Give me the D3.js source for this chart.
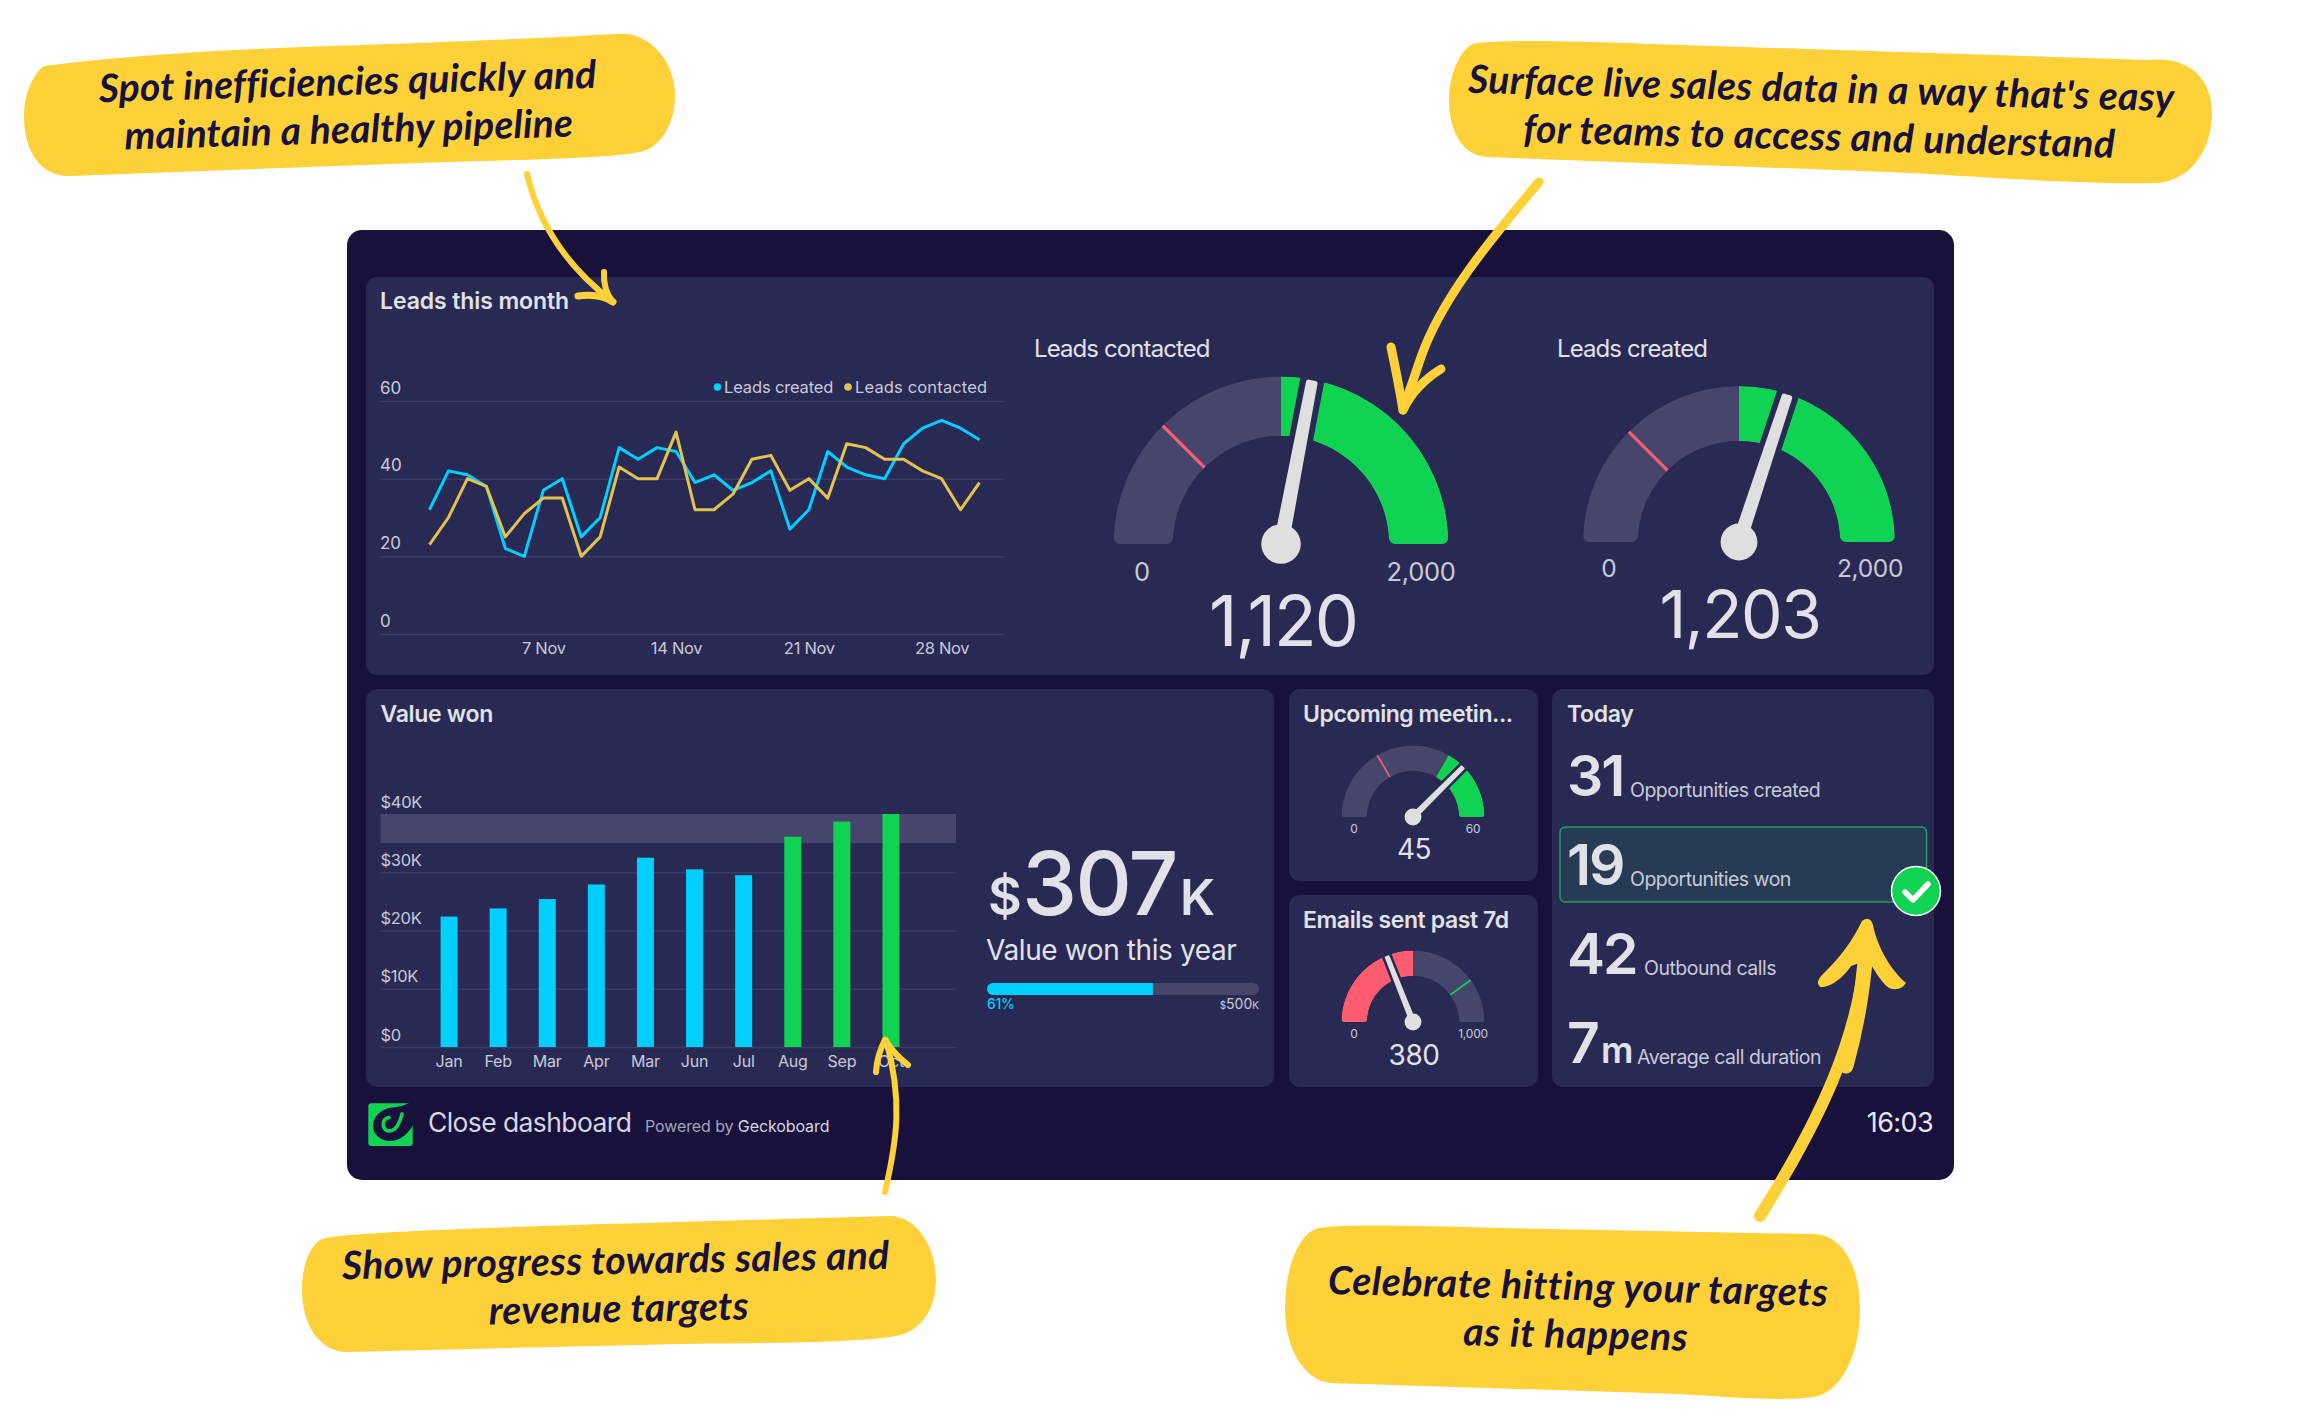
<!DOCTYPE html>
<html><head><meta charset="utf-8">
<script src="https://cdn.jsdelivr.net/npm/d3@7/dist/d3.min.js"></script>
<style>
html,body{margin:0;padding:0;background:#fff}
svg{display:block}
text{font-family:Inter,"Noto Sans",sans-serif}
.call text{font-family:Lato,"Noto Sans",sans-serif;font-style:italic;font-weight:700;fill:#17113c}
.axis path.domain{display:none}
</style></head><body>
<svg id="c" width="2300" height="1410" viewBox="0 0 2300 1410"></svg>
<script>
// ---------- data ----------
const days = d3.range(1, 31);
const dayTicks = [7, 14, 21, 28];
const leadsCreated = [32,42,41,38,22,20,37,40,25,30,48,45,48,47,39,41,37,39,42,27,32,47,43,41,40,49,53,55,53,50];
const leadsContacted = [23,30,40,38,25,31,35,35,20,25,43,40,40,52,32,32,36,45,46,37,40,35,49,48,45,45,42,40,32,39];
const leadTicks = [0, 20, 40, 60];
const months = ["Jan","Feb","Mar","Apr","Mar ","Jun","Jul","Aug","Sep","Oct"];
const valueWon = [22400,23800,25400,27900,32500,30500,29500,36100,38700,40000];
const valueTicks = [0, 10000, 20000, 30000, 40000];
const valueBand = [35000, 40000];
const valueTotalK = 307, valueTargetK = 500, valuePct = 61;
const todayNumbers = ["31","19","42","7"];
const todayLabels = ["Opportunities created","Opportunities won","Outbound calls","Average call duration"];
const callouts = [
  ["Spot inefficiencies quickly and","maintain a healthy pipeline"],
  ["Surface live sales data in a way that's easy","for teams to access and understand"],
  ["Show progress towards sales and","revenue targets"],
  ["Celebrate hitting your targets","as it happens"]
];
const gaugeTitles = ["Leads contacted","Leads created","","" ];
const gaugeValues = [1120,1203,45,380];
const gaugeMax = [2000,2000,60,1000];
const gaugeMaxLabels = ["2,000","2,000","60","1,000"];
const gaugeFill = [[1000,2000],[1000,2000],[40,60],[0,500]];
const gaugeMark = [500,500,20,800];

// ---------- palette ----------
const NAVY="#17113c",CARD="#282a54",GREY="#46466d",GREEN="#10d353",RED="#ff5c70",BLUE="#00cfff",GOLD="#e4c24f",
      INK="#e1e1e8",SOFT="#c9c9d6",LINE="#3b3c66",YELLOW="#ffd139";

const svg=d3.select("#c");
function T(p,x,y,s,size,o={}){
  return p.append("text").attr("x",x).attr("y",y).text(s)
   .attr("font-size",size).attr("font-weight",o.w||400).attr("fill",o.c||INK)
   .attr("text-anchor",o.a||"start").attr("letter-spacing",o.ls||0);
}
// ---------- panel & cards ----------
svg.append("rect").attr("x",347).attr("y",230).attr("width",1607).attr("height",950).attr("rx",15).attr("fill",NAVY);
[[366,277,1568,398],[366,689,908,398],[1289,689,249,192],[1289,895,249,192],[1552,689,382,398]].forEach(r=>
  svg.append("rect").attr("x",r[0]).attr("y",r[1]).attr("width",r[2]).attr("height",r[3]).attr("rx",11).attr("fill",CARD));

// ---------- line chart ----------
T(svg,380,309,"Leads this month",23,{w:600,ls:-0.1});
const lx=d3.scaleLinear().domain([1,30]).range([429.5,979.5]);
const ly=d3.scaleLinear().domain([0,60]).range([634,401]);
const ga=svg.append("g").attr("class","axis").attr("transform","translate(380,0)")
  .call(d3.axisRight(ly).tickValues(leadTicks).tickSize(624));
ga.selectAll("line").attr("stroke",LINE).attr("stroke-width",1.5);
ga.selectAll("text").attr("x",0).attr("dy",-8).attr("fill",SOFT).attr("font-size",17).style("font-family","Inter");
const gb=svg.append("g").attr("class","axis").attr("transform","translate(0,634)")
  .call(d3.axisBottom(lx).tickValues(dayTicks).tickSize(0).tickPadding(12).tickFormat(d=>d+" Nov"));
gb.selectAll("text").attr("dy",0).attr("y",20).attr("fill",SOFT).attr("font-size",16.5).attr("letter-spacing",-0.3).style("font-family","Inter");
const line=d3.line().x((d,i)=>lx(days[i])).y(d=>ly(d));
[[leadsCreated,BLUE],[leadsContacted,GOLD]].forEach(([s,c])=>
  svg.append("path").attr("d",line(s)).attr("fill","none").attr("stroke",c).attr("stroke-width",3).attr("stroke-linejoin","round"));
svg.append("circle").attr("cx",717.5).attr("cy",387).attr("r",3.8).attr("fill",BLUE);
T(svg,724,393,"Leads created",16.5,{c:SOFT,ls:-0.15});
svg.append("circle").attr("cx",848).attr("cy",387).attr("r",3.8).attr("fill",GOLD);
T(svg,855,393,"Leads contacted",16.5,{c:SOFT,ls:0.15});

// ---------- gauges ----------
const geo=[
 {cx:1281,cy:544,ro:167.5,ri:108,lab:25.5,lx0:1142,lx1:1421,ly:581,val:70,vx:1283,vy:646,ls:-2,w:400},
 {cx:1739,cy:542,ro:156,ri:101,lab:24.5,lx0:1609,lx1:1870,ly:577,val:66,vx:1740,vy:638,ls:-1.5,w:400},
 {cx:1413,cy:817,ro:71.5,ri:46,lab:12,lx0:1354,lx1:1473,ly:833,val:28,vx:1414,vy:859,ls:-0.5,w:400},
 {cx:1413,cy:1022,ro:71.5,ri:46,lab:12,lx0:1354,lx1:1473,ly:1038,val:28,vx:1414,vy:1065,ls:-0.5,w:400}
];
const defs=svg.append("defs");
gaugeValues.forEach((v,i)=>{
  const g=geo[i],a=d3.scaleLinear().domain([0,gaugeMax[i]]).range([-Math.PI/2,Math.PI/2]);
  const p=svg.append("g").attr("transform",`translate(${g.cx},${g.cy})`);
  const arc=d3.arc().innerRadius(g.ri).outerRadius(g.ro);
  const id="gclip"+i;
  defs.append("clipPath").attr("id",id).append("path")
    .attr("d",arc.cornerRadius(g.ro*0.04)({startAngle:-Math.PI/2,endAngle:Math.PI/2}));
  arc.cornerRadius(0);
  const body=p.append("g").attr("clip-path",`url(#${id})`);
  body.append("path").attr("d",arc({startAngle:-Math.PI/2,endAngle:Math.PI/2})).attr("fill",GREY);
  const col=gaugeFill[i][0]===0?RED:GREEN;
  body.append("path").attr("d",arc({startAngle:a(gaugeFill[i][0]),endAngle:a(gaugeFill[i][1])})).attr("fill",col);
  const m=a(gaugeMark[i]);
  body.append("line").attr("x1",g.ri*Math.sin(m)).attr("y1",-g.ri*Math.cos(m))
    .attr("x2",g.ro*Math.sin(m)).attr("y2",-g.ro*Math.cos(m))
    .attr("stroke",col===RED?GREEN:RED).attr("stroke-width",g.ro*0.017+0.4);
  const deg=a(v)*180/Math.PI;
  const n=p.append("g").attr("transform",`rotate(${deg})`);
  const gap=g.ro*0.145,len=g.ro*0.98,tipw=g.ro*0.02,basew=g.ro*0.03;
  n.append("rect").attr("x",-gap/2).attr("y",-g.ro-12).attr("width",gap).attr("height",g.ro+12-g.ri*0.5).attr("fill",CARD);
  n.append("path").attr("d",`M${-basew},0L${-tipw},${-len}L${tipw},${-len}L${basew},0Z`)
    .attr("fill","#dfdfe0").attr("stroke","#dfdfe0").attr("stroke-width",g.ro*0.03).attr("stroke-linejoin","round");
  p.append("circle").attr("r",g.ro*0.118).attr("fill","#dfdfe0");
  T(svg,g.lx0,g.ly,"0",g.lab,{a:"middle",c:SOFT});
  T(svg,g.lx1,g.ly,gaugeMaxLabels[i],g.lab,{a:"middle",c:SOFT,ls:g.lab>20?-0.3:-0.2});
  T(svg,g.vx,g.vy,d3.format(",")(v),g.val,{a:"middle",ls:g.ls,w:g.w});
});
T(svg,1034,357,gaugeTitles[0],24,{ls:-0.9});
T(svg,1557,357,gaugeTitles[1],24,{ls:-0.9});
T(svg,1303,722,"Upcoming meetin...",23,{w:600,ls:-0.45});
T(svg,1303,928,"Emails sent past 7d",23,{w:600,ls:-0.4});

// ---------- bar chart ----------
T(svg,380.5,722,"Value won",23,{w:600,ls:-0.3});
const vy=d3.scaleLinear().domain([0,40000]).range([1047,814]);
const vx=d3.scaleBand().domain(months).range([424.5,915.5]).paddingInner(0.654).paddingOuter(0.327);
svg.append("rect").attr("x",380.5).attr("width",575.5).attr("y",vy(valueBand[1])).attr("height",vy(valueBand[0])-vy(valueBand[1])).attr("fill",GREY);
const va=svg.append("g").attr("class","axis").attr("transform","translate(380.5,0)")
  .call(d3.axisRight(vy).tickValues(valueTicks).tickSize(575.5).tickFormat(d=>"$"+(d?d/1000+"K":"0")));
va.selectAll("line").attr("stroke",(d)=>d===40000?"none":LINE).attr("stroke-width",1.5);
va.selectAll("text").attr("x",0).attr("dy",-7).attr("fill",SOFT).attr("font-size",16.5).attr("letter-spacing",-0.3).style("font-family","Inter");
svg.selectAll("rect.bar").data(valueWon).enter().append("rect").attr("class","bar")
  .attr("x",(d,i)=>vx(months[i])).attr("width",vx.bandwidth()).attr("y",d=>vy(d)).attr("height",d=>vy(0)-vy(d))
  .attr("fill",d=>d>=valueBand[0]?GREEN:BLUE);
const vb=svg.append("g").attr("class","axis").attr("transform","translate(0,1047)")
  .call(d3.axisBottom(vx).tickSize(0).tickFormat(d=>d.trim()));
vb.selectAll("text").attr("dy",0).attr("y",20).attr("fill",SOFT).attr("font-size",16).attr("letter-spacing",-0.2).style("font-family","Inter");
T(svg,988,915,"$",52,{w:600});
T(svg,1022,915,String(valueTotalK),88,{w:500,ls:-2});
T(svg,1180,915,"K",50,{w:600});
T(svg,986,960,"Value won this year",28,{ls:-0.4});
const px=d3.scaleLinear().domain([0,100]).range([987,1259]);
svg.append("rect").attr("x",px(0)).attr("y",983).attr("width",px(100)-px(0)).attr("height",12).attr("rx",6).attr("fill",GREY);
defs.append("clipPath").attr("id","pclip").append("rect").attr("x",px(0)).attr("y",983).attr("width",px(100)-px(0)).attr("height",12).attr("rx",6);
svg.append("rect").attr("clip-path","url(#pclip)").attr("x",px(0)).attr("y",983).attr("width",px(valuePct)-px(0)).attr("height",12).attr("fill",BLUE);
T(svg,987,1009,valuePct+"%",14,{c:BLUE,w:500,ls:-0.3});
const tg=T(svg,1259,1009,"",14,{a:"end",c:SOFT});
tg.append("tspan").attr("font-size",10).text("$");
tg.append("tspan").text(valueTargetK);
tg.append("tspan").attr("font-size",10).text("K");

// ---------- today ----------
T(svg,1567,722,"Today",23,{w:600,ls:-0.3});
svg.append("rect").attr("x",1560).attr("y",827).attr("width",366.5).attr("height",75).attr("rx",5).attr("fill","#283b55").attr("stroke","#14a35c").attr("stroke-width",1.5);
const ty=[796,885,974,1063],tx=[1630,1630,1644,1637];
todayNumbers.forEach((n,i)=>{
  T(svg,1567,ty[i],n,57,{w:600,ls:-2});
  T(svg,tx[i],ty[i]+1,todayLabels[i],19.5,{c:SOFT,ls:-0.5});
});
T(svg,1601,1063,"m",36,{w:600});
svg.append("circle").attr("cx",1916).attr("cy",891).attr("r",24.5).attr("fill",GREEN).attr("stroke","#fff").attr("stroke-width",1.5);
svg.append("path").attr("d","M1905,892L1913,900L1928,884").attr("fill","none").attr("stroke","#fff").attr("stroke-width",5.5).attr("stroke-linecap","round").attr("stroke-linejoin","round");

// ---------- footer ----------
svg.append("rect").attr("x",368.3).attr("y",1103.3).attr("width",44.4).attr("height",42.7).attr("rx",3).attr("fill",GREEN);
svg.append("path").attr("d","M414,1102L414,1123C411,1130 402,1141 390,1141C380,1141 373,1134 373,1126C373,1116 382,1108 393,1107.5C400,1107 405,1105 409,1103Z").attr("fill",NAVY);
svg.append("path").attr("d","M402,1114C400,1122 397,1129 392,1130.5C387,1132 383,1129 383.3,1124C383.5,1120 386,1118 389,1117.5").attr("fill","none").attr("stroke",GREEN).attr("stroke-width",3.6).attr("stroke-linecap","round");
T(svg,428,1132,"Close dashboard",26.5,{c:"#d6d6e0",ls:-0.6});
const pw=T(svg,645,1132,"",16,{c:"#a3a3b6",ls:-0.1});
pw.append("tspan").text("Powered by ");
pw.append("tspan").attr("fill","#d6d6e0").text("Geckoboard");
T(svg,1933,1132,"16:03",27,{a:"end",c:"#e6e6ee",ls:-0.6});

// ---------- callouts ----------
const blobs=[
 "M44,66Q150,52 330,46T615,34C650,30 675,62 675,95C675,125 660,148 640,152C600,160 480,160 390,164L70,176C40,177 24,150 24,117C24,95 32,75 44,66Z",
 "M1473,44C1490,40 1560,40 1650,44L2150,60C2190,56 2212,80 2212,113C2212,150 2190,182 2155,183C2080,185 1960,175 1889,172L1486,157C1462,155 1449,130 1449,100C1449,75 1460,50 1473,44Z",
 "M322,1239C345,1230 620,1224 887,1216C915,1214 936,1245 936,1280C936,1310 920,1330 900,1335C860,1345 720,1342 637,1345L347,1352C320,1352 302,1325 302,1290C302,1265 310,1245 322,1239Z",
 "M1316,1229C1330,1224 1400,1225 1500,1228L1812,1234C1845,1234 1860,1270 1860,1310C1860,1355 1840,1395 1812,1397C1790,1401 1740,1398 1680,1394L1330,1383C1305,1380 1285,1350 1285,1308C1285,1270 1298,1235 1316,1229Z"
];
blobs.forEach(d=>svg.append("path").attr("d",d).attr("fill",YELLOW));
const place=[
 [[348,95,-1.65],[349,143,-1.65]],
 [[1821,102,1.5],[1819,150,1.5]],
 [[616,1274,-1.1],[619,1322,-1.1]],
 [[1578,1300,1.4],[1575.5,1348,1.4]]
];
const calloutSpacing=[0.15,0.4,0.35,0.65];
callouts.forEach((c,i)=>{const g=svg.append("g").attr("class","call");
  c.forEach((s,j)=>{const [x,y,r]=place[i][j];
    g.append("text").attr("x",x).attr("y",y).attr("text-anchor","middle").attr("font-size",39).attr("letter-spacing",calloutSpacing[i])
     .attr("transform",`rotate(${r} ${x} ${y})`).text(s);});});

// ---------- arrows ----------
const strokes=[
 ["M527,174Q545,250 612,301",6],["M604,272Q603,290 613,302",6],["M578,296Q600,293 613,302",7],
 ["M1539,182C1490,240 1440,300 1420,360S1406,395 1403,408",9],["M1391,347Q1398,380 1403,410",9],["M1441,369Q1415,385 1403,410",9],
 ["M885,1192C897,1140 903,1100 886,1040",6],["M876,1072Q877,1055 885,1040",6],["M908,1065Q895,1055 885,1040",6],
 ["M1760,1216C1820,1120 1858,1040 1866,950",12],["M1846,1066C1856,1030 1863,990 1866,950",15]
];
strokes.forEach(([d,w])=>svg.append("path").attr("d",d).attr("fill","none").attr("stroke",YELLOW).attr("stroke-width",w).attr("stroke-linecap","round").attr("stroke-linejoin","round"));
svg.append("path").attr("d","M1862,921Q1870,915 1873,925C1878,950 1893,972 1906,983Q1900,992 1889,988C1880,982 1872,965 1868,960L1851,966C1845,975 1832,988 1820,987Q1815,982 1822,975C1840,958 1853,940 1862,921Z").attr("fill",YELLOW);
</script>
</body></html>
